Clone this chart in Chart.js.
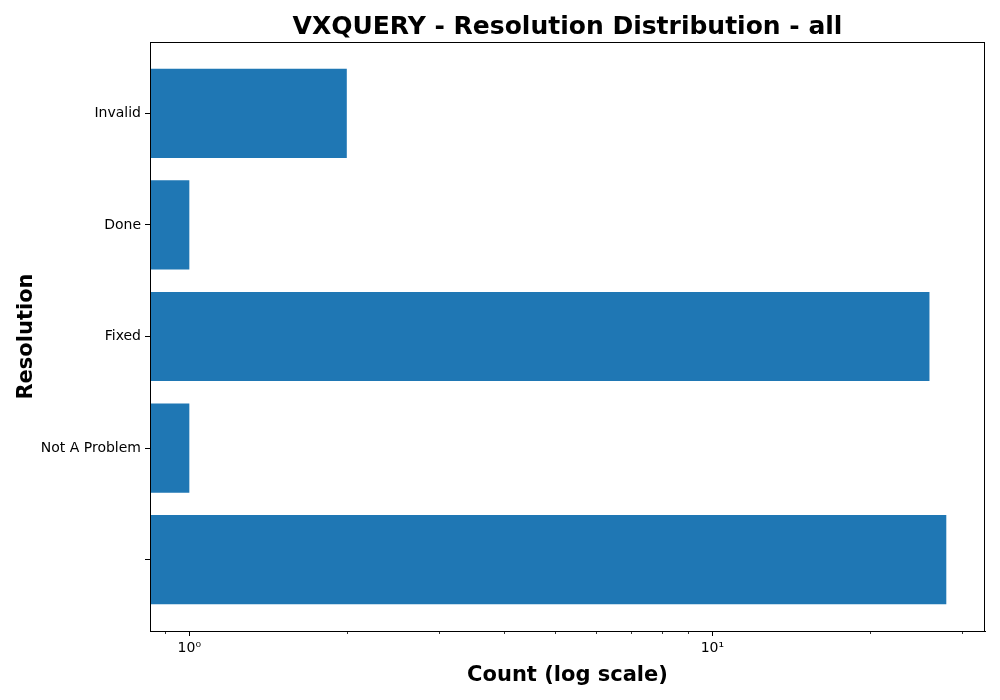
<!DOCTYPE html>
<html>
<head>
<meta charset="utf-8">
<script src="https://cdn.jsdelivr.net/npm/chart.js@4/dist/chart.umd.min.js"></script>
<style>
  html, body { margin: 0; padding: 0; background: #fff; }
  #wrap { width: 1000px; height: 700px; }
</style>
</head>
<body>
<div id="wrap"><canvas id="chart" width="1000" height="700"></canvas></div>
<script>
// data
var resolutions = ["Invalid", "Done", "Fixed", "Not A Problem", ""];
var counts = [2, 1, 26, 1, 28];
var majorTicks = [1, 10];
var majorLabels = ["10\u2070", "10\u00b9"];
var minorTicks = [0.9, 2, 3, 4, 5, 6, 7, 8, 9, 20, 30];

var font = "'DejaVu Sans', sans-serif";

// frame on top/right and the short minor ticks
var framePlugin = {
    id: "frame",
    afterDraw: function(chart) {
        var ctx = chart.ctx;
        var a = chart.chartArea;
        var xs = chart.scales.x;
        ctx.save();
        ctx.strokeStyle = "#000";
        ctx.lineWidth = 1;
        ctx.strokeRect(a.left + 0.5, a.top + 0.5, a.right - a.left - 1, a.bottom - a.top);
        ctx.lineWidth = 0.8;
        minorTicks.forEach(function(v) {
            var px = Math.round(xs.getPixelForValue(v)) + 0.5;
            ctx.beginPath();
            ctx.moveTo(px, a.bottom);
            ctx.lineTo(px, a.bottom + 3);
            ctx.stroke();
        });
        ctx.restore();
    }
};

var displaychart = new Chart(document.getElementById("chart").getContext("2d"), {
    type: "bar",
    data: {
        datasets: [{
            label: "Count",
            data: counts.map(function(v, i) { return { x: v, y: i }; }),
            backgroundColor: "#1f77b4",
            borderWidth: 0,
            categoryPercentage: 0.8,
            barPercentage: 1.0
        }]
    },
    options: {
        indexAxis: "y",
        responsive: false,
        animation: false,
        layout: { padding: { left: 0, right: 15, top: 0, bottom: 0 } },
        plugins: {
            legend: { display: false },
            tooltip: { enabled: false },
            title: {
                display: true,
                fullSize: false,
                text: "VXQUERY - Resolution Distribution - all",
                color: "#000",
                font: { family: font, size: 25, weight: "bold", lineHeight: 1.2 },
                padding: { top: 12, bottom: 0 }
            }
        },
        scales: {
            x: {
                type: "logarithmic",
                min: 0.841,
                max: 33.2,
                afterBuildTicks: function(scale) {
                    scale.ticks = majorTicks.map(function(v) { return { value: v, major: true }; });
                },
                afterFit: function(scale) { scale.height = 69; },
                ticks: {
                    color: "#000",
                    font: { family: font, size: 14 },
                    padding: 4,
                    maxRotation: 0,
                    autoSkip: false,
                    callback: function(value) {
                        var i = majorTicks.indexOf(value);
                        return i >= 0 ? majorLabels[i] : "";
                    }
                },
                grid: { drawOnChartArea: false, drawTicks: true, tickLength: 5, tickColor: "#000", tickWidth: 1 },
                border: { display: true, color: "#000", width: 1 },
                title: {
                    display: true,
                    text: "Count (log scale)",
                    color: "#000",
                    font: { family: font, size: 21, weight: "bold" },
                    padding: { top: 4, bottom: 12 }
                }
            },
            y: {
                type: "linear",
                reverse: true,
                offset: false,
                min: -0.64,
                max: 4.64,
                afterBuildTicks: function(scale) {
                    scale.ticks = resolutions.map(function(r, i) { return { value: i }; });
                },
                afterFit: function(scale) { scale.width = 150; },
                ticks: {
                    color: "#000",
                    font: { family: font, size: 14 },
                    padding: 4,
                    autoSkip: false,
                    callback: function(value) { return resolutions[value]; }
                },
                grid: { offset: false, drawOnChartArea: false, drawTicks: true, tickLength: 5, tickColor: "#000", tickWidth: 1 },
                border: { display: true, color: "#000", width: 1 },
                title: {
                    display: true,
                    text: "Resolution",
                    color: "#000",
                    font: { family: font, size: 21, weight: "bold" },
                    padding: { top: 14, bottom: 4 }
                }
            }
        }
    },
    plugins: [framePlugin]
});
</script>
</body>
</html>
